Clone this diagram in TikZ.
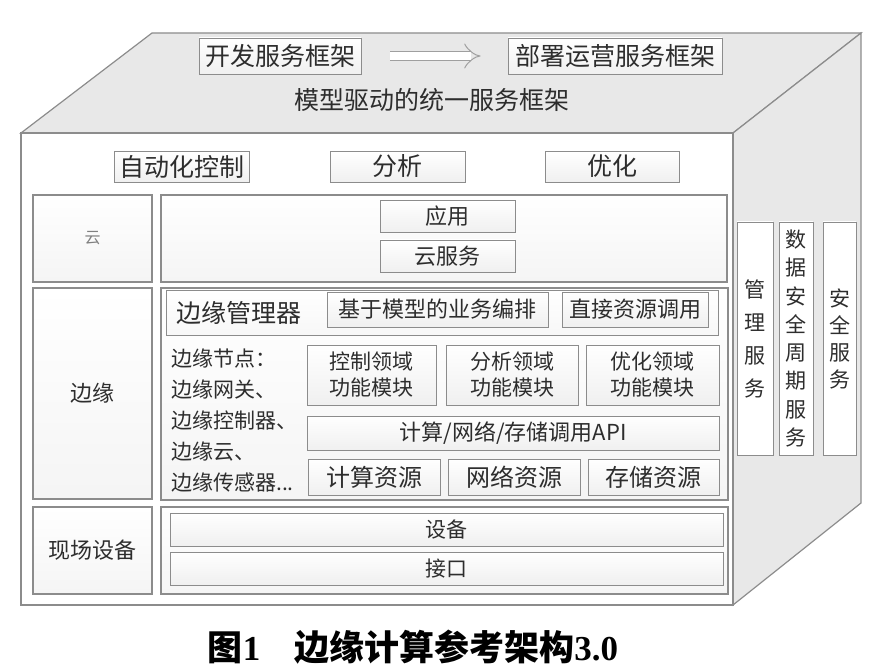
\documentclass[tikz,border=0pt]{standalone}
\usepackage{fontspec}
\setmainfont{Noto Sans CJK SC}
\newfontfamily\capserif{Liberation Serif}
\usepackage{tikz}
\usetikzlibrary{arrows.meta,shadows}
\definecolor{facegray}{RGB}{232,232,232}
\definecolor{linegray}{RGB}{140,140,140}
\definecolor{txtgray}{RGB}{45,45,45}

\begin{document}
\begin{tikzpicture}[x=1pt, y=-1pt, >=Stealth,
		box/.style={draw=linegray, line width=0.9pt, top color=white, bottom color=gray!12,
			inner sep=0pt, text=txtgray, drop shadow={shadow xshift=1.2pt, shadow yshift=-1.2pt, opacity=0.45}},
		panel/.style={draw=linegray, line width=1.2pt, top color=white, bottom color=gray!8, inner sep=0pt, text=txtgray},
		vbox/.style={box, align=center, top color=white, bottom color=white},
		fs/.style={font=\fontsize{#1}{#1}\selectfont}]
		\useasboundingbox (0,0) rectangle (878,668);
		\coordinate (ftl) at (21,133);
		\coordinate (ftr) at (733,133);
		\coordinate (fbr) at (733,605);
		\coordinate (btl) at (152,33);
		\coordinate (btr) at (861,33);
		\coordinate (bbr) at (861,503);
		% box faces
		\filldraw[fill=facegray, draw=linegray, line width=1.2pt] (ftl) -- (btl) -- (btr) -- (ftr) -- cycle;
		\filldraw[fill=facegray, draw=linegray, line width=1.2pt] (ftr) -- (btr) -- (bbr) -- (fbr) -- cycle;
		\filldraw[fill=white, draw=linegray, line width=1.2pt] (ftl) rectangle (fbr);
		% top face
		\node[box, minimum width=162, minimum height=36, fs=25] (dev) at (280,56) {开发服务框架};
		\node[box, minimum width=214, minimum height=36, fs=25] (ops) at (615,56) {部署运营服务框架};
		\draw[draw=gray!75, double=white, double distance=8pt, line width=1pt, -{Implies[length=16pt, width=30pt]},
			shorten <=29pt, shorten >=27pt] (dev) -- (ops);
		\node[fs=25, text=txtgray] (frame) at (432,100) {模型驱动的统一服务框架};
		% front face
		\node[box, minimum width=135, minimum height=31, fs=25] (auto) at (181.5,166.5) {自动化控制};
		\node[box, minimum width=135, minimum height=31, fs=25] (ana) at (397.5,166.5) {分析};
		\node[box, minimum width=134, minimum height=31, fs=25] (opt) at (612,166.5) {优化};
		\node[panel, minimum width=119, minimum height=87, fs=16, text=gray] (cloudlbl) at (92.5,238.5) {云};
		\node[panel, minimum width=119, minimum height=211, fs=22] (edgelbl) at (92.5,393.5) {边缘};
		\node[panel, minimum width=119, minimum height=87, fs=22] (fieldlbl) at (92.5,550.5) {现场设备};
		\node[panel, minimum width=566, minimum height=87] (cloudp) at (444,238.5) {};
		\node[panel, minimum width=567, minimum height=212] (edgep) at (444.5,394) {};
		\node[panel, minimum width=567, minimum height=87] (fieldp) at (444.5,550.5) {};
		% cloud
		\node[box, minimum width=135, minimum height=32, fs=22] (app) at (447.5,216) {应用};
		\node[box, minimum width=135, minimum height=32, fs=22] (csvc) at (447.5,256) {云服务};
		% edge
		\node[box, minimum width=552, minimum height=45, bottom color=gray!6] (mgr) at (442,312.5) {};
		\node[fs=25, text=txtgray, anchor=west, inner sep=0pt] (mgrlbl) at (176,312.5) {边缘管理器};
		\node[box, minimum width=221, minimum height=35, fs=22] (orch) at (437.5,309.5) {基于模型的业务编排};
		\node[box, minimum width=146, minimum height=35, fs=22] (direct) at (635,309.5) {直接资源调用};
		\node[text=txtgray, anchor=west, align=left, inner sep=0pt, font=\fontsize{21}{31}\selectfont]
			(nodes) at (171,421) {边缘节点：\\边缘网关、\\边缘控制器、\\边缘云、\\边缘传感器...};
		\node[box, minimum width=129, minimum height=60, align=center, font=\fontsize{21}{26}\selectfont] (ctl) at (371.5,375) {控制领域\\功能模块};
		\node[box, minimum width=132, minimum height=60, align=center, font=\fontsize{21}{26}\selectfont] (anam) at (512,375) {分析领域\\功能模块};
		\node[box, minimum width=133, minimum height=60, align=center, font=\fontsize{21}{26}\selectfont] (optm) at (652.5,375) {优化领域\\功能模块};
		\node[box, minimum width=412, minimum height=34, fs=22] (api) at (513,433) {计算/网络/存储调用API};
		\node[box, minimum width=132, minimum height=36, fs=24] (cpu) at (374,477) {计算资源};
		\node[box, minimum width=132, minimum height=36, fs=24] (net) at (514,477) {网络资源};
		\node[box, minimum width=131, minimum height=36, fs=24] (sto) at (653.5,477) {存储资源};
		% field
		\node[box, minimum width=553, minimum height=33, fs=21] (equip) at (446.5,529.5) {设备};
		\node[box, minimum width=553, minimum height=33, fs=21] (iface) at (446.5,568.5) {接口};
		% right face
		\node[vbox, minimum width=36, minimum height=233, font=\fontsize{21}{33}\selectfont] (mgmt) at (755,338.5) {管\\理\\服\\务};
		\node[vbox, minimum width=34, minimum height=233, font=\fontsize{21}{28.3}\selectfont] (data) at (796,338.5) {数\\据\\安\\全\\周\\期\\服\\务};
		\node[vbox, minimum width=33, minimum height=233, font=\fontsize{21}{27}\selectfont] (sec) at (839.5,338.5) {安\\全\\服\\务};
		% caption
		\node[font=\fontsize{35}{40}\selectfont\bfseries] (caption) at (413,647)
			{图{\capserif 1}\hspace{34pt}边缘计算参考架构{\capserif 3.0}};
	\end{tikzpicture}
\end{document}
